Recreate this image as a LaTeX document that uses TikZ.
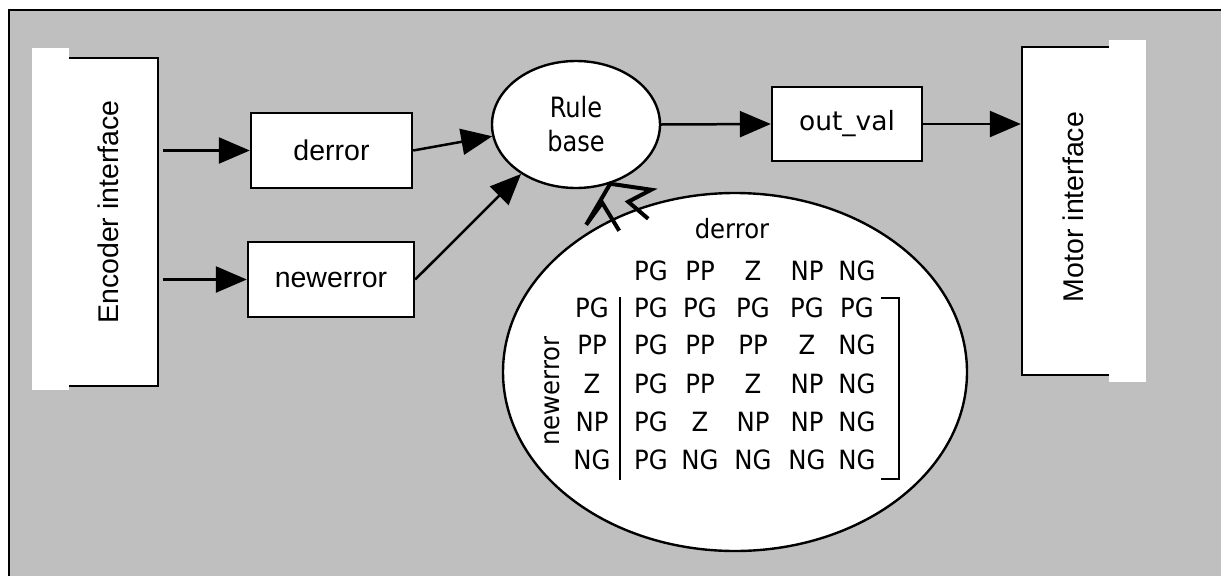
\documentclass[tikz,border=0pt]{standalone}
\usepackage{fontspec}
\setmainfont{Liberation Sans}
\newfontfamily\valfont{DejaVu Sans}
\newfontfamily\tabfont[FakeStretch=0.92]{DejaVu Sans}
\newfontfamily\rulefont[FakeStretch=0.86]{DejaVu Sans}
\usetikzlibrary{arrows.meta,shapes.geometric}
\definecolor{panel}{RGB}{191,191,191}
\begin{document}
\begin{tikzpicture}[x=1pt,y=-1pt,
  box/.style={draw, line width=2.4pt, fill=white, inner sep=0pt,
    font=\fontsize{28.5}{34}\selectfont},
  iface/.style={draw, line width=2.4pt, fill=white, inner sep=0pt},
  vlabel/.style={rotate=90, inner sep=0pt, font=\fontsize{28.5}{34}\selectfont},
  link/.style={line width=2.5pt, -{Triangle[length=31pt,width=26pt]}},
  cell/.style={anchor=base, inner sep=0pt, font=\tabfont\fontsize{26.5}{30}\selectfont},
  rule line/.style={line width=2.6pt}]

% page and grey panel
\fill[white] (0,0) rectangle (1221,576);
\useasboundingbox (0,0) rectangle (1221,576);
\fill[panel] (9,10) rectangle (1221,576);
\draw[line width=2.8pt] (9,576) -- (9,10) -- (1221,10);

% encoder interface block (its left edge hidden by a white strip)
\node[iface, minimum width=124pt, minimum height=328pt] (enc) at (96,222) {};
\fill[white] (32,48) rectangle (69,390);
\node[vlabel] (enclab) at (108,212) {Encoder interface};

% motor interface block (its right edge hidden by a white strip)
\node[iface, minimum width=122pt, minimum height=328pt] (motor) at (1083,211) {};
\fill[white] (1109,40) rectangle (1146,382);
\node[vlabel] (motorlab) at (1073,207) {Motor interface};

% processing blocks
\node[box, minimum width=161pt, minimum height=75pt] (derr) at (331.5,150.5) {derror};
\node[box, minimum width=166pt, minimum height=75pt] (nerr) at (331,279.5) {newerror};
\node[box, minimum width=150pt, minimum height=74pt,
      font=\valfont\fontsize{26.5}{30}\selectfont] (outval) at (847,124) {out\_val};
\node[ellipse, draw, line width=2.4pt, fill=white, inner sep=0pt,
      minimum width=168pt, minimum height=127pt, align=center,
      font=\rulefont\fontsize{28}{34}\selectfont] (rule) at (576,124.5) {Rule\\base};

% signal flow
\draw[link, shorten <=4pt] (enc.east |- derr.west) -- (derr.west);
\draw[link, shorten <=4pt] (enc.east |- nerr.west) -- (nerr.west);
\draw[link] (derr.east) -- (rule.188);
\draw[link] (nerr.east) -- (rule.222);
\draw[link] (rule.east) -- (outval.west);
\draw[link] (outval.east) -- (motor.west |- outval.east);

% rule table
\node[ellipse, draw, line width=2.4pt, fill=white, inner sep=0pt,
      minimum width=464pt, minimum height=358pt] (tab) at (735,372) {};
\node[cell] (thead) at (732,238) {derror};
\node[cell, anchor=center, rotate=90] (tside) at (552,391) {newerror};
\foreach \lab/\xx [count=\i] in {PG/651,PP/700,Z/753,NP/807,NG/857}
  \node[cell] (col\i) at (\xx,280) {\lab};
\foreach \rl/\yy/\a/\b/\c/\d/\e [count=\r] in {
    PG/317/PG/PG/PG/PG/PG,
    PP/354/PG/PP/PP/Z/NG,
    Z/393/PG/PP/Z/NP/NG,
    NP/431/PG/Z/NP/NP/NG,
    NG/469/PG/NG/NG/NG/NG}{
  \node[cell] (row\r) at (592,\yy) {\rl};
  \node[cell] (c\r-1) at (651,\yy) {\a};
  \node[cell] (c\r-2) at (700,\yy) {\b};
  \node[cell] (c\r-3) at (753,\yy) {\c};
  \node[cell] (c\r-4) at (807,\yy) {\d};
  \node[cell] (c\r-5) at (857,\yy) {\e};
}
\draw[rule line] (620,297) -- (620,480);
\draw[rule line] (881,298) -- (899,298) -- (899,479) -- (881,479);

% zig-zag arrow from the table into the rule base
\draw[line width=4pt, miter limit=10, shift={(rule.300)}]
  (9,47) -- (-8,19) -- (-24,41) -- (0,0) -- (41,6) -- (18,18) -- (38,35);

\end{tikzpicture}
\end{document}
